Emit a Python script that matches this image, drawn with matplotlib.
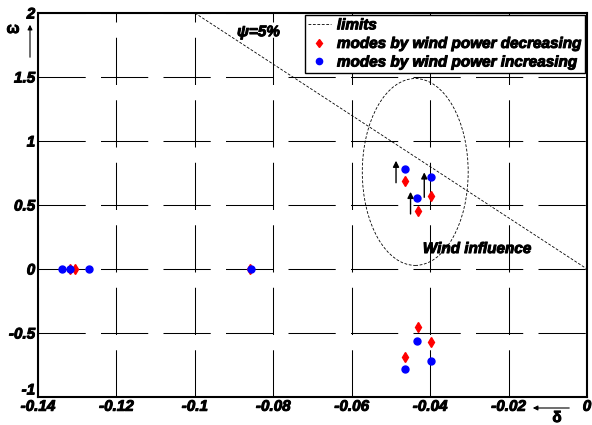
import matplotlib
matplotlib.use("Agg")
import matplotlib.pyplot as plt
import matplotlib.patheffects as pe
import matplotlib.transforms as mtransforms
from matplotlib.patches import Ellipse, FancyArrowPatch

plt.rcParams['font.family'] = ['Liberation Sans', 'DejaVu Sans']
plt.rcParams['font.weight'] = 'bold'
plt.rcParams['font.style'] = 'italic'
plt.rcParams['lines.scale_dashes'] = False

# damping limit line (psi = 5%)
limits_delta = [-0.1, 0.0]
limits_omega = [2.0, 0.0]

# modes by wind power decreasing (red diamonds)
dec_delta = [-0.0465, -0.0431, -0.0399, -0.0465, -0.0431, -0.0399, -0.1318, -0.1305, -0.0860]
dec_omega = [0.69, 0.455, 0.573, -0.69, -0.455, -0.573, 0.0, 0.0, 0.0]

# modes by wind power increasing (blue dots)
inc_delta = [-0.0464, -0.0434, -0.0399, -0.0464, -0.0434, -0.0399, -0.1340, -0.1319, -0.1269, -0.0856]
inc_omega = [0.779, 0.557, 0.721, -0.781, -0.56, -0.721, 0.0, 0.0, 0.0, 0.0]

# upward shift arrows (x, start, end)
arrow_x = [-0.0487, -0.0450, -0.0415]
arrow_y0 = [0.674, 0.43, 0.56]
arrow_y1 = [0.846, 0.603, 0.755]

xticks = [-0.14, -0.12, -0.1, -0.08, -0.06, -0.04, -0.02, 0]
xlabels = ['-0.14', '-0.12', '-0.1', '-0.08', '-0.06', '-0.04', '-0.02', '0']
yticks = [-1, -0.5, 0, 0.5, 1, 1.5, 2]
ylabels = ['-1', '-0.5', '0', '0.5', '1', '1.5', '2']

heavy = [pe.withStroke(linewidth=0.7, foreground='black')]
fs = 11

fig = plt.figure(figsize=(5.92, 4.25), dpi=100)
ax = fig.add_axes([38/592, 1-397/425, 549/592, 384/425])

ax.plot(limits_delta, limits_omega, color='black', lw=0.6, linestyle=(0, (2, 1.2)), label='limits')
ax.plot(dec_delta, dec_omega, 'd', color='red', ms=5, mec='red', label='modes by wind power decreasing')
ax.plot(inc_delta, inc_omega, 'o', color='blue', ms=5, mec='blue', label='modes by wind power increasing')

for x, y0, y1 in zip(arrow_x, arrow_y0, arrow_y1):
    ax.annotate('', xy=(x, y1), xytext=(x, y0),
                arrowprops=dict(arrowstyle='-|>', color='black', lw=1, mutation_scale=9, shrinkA=0, shrinkB=0))

ell = Ellipse((-0.0438, 0.758), 0.027, 1.46, fill=False, edgecolor='black', lw=0.6, linestyle=(0, (2, 1.2)))
ax.add_patch(ell)

ax.text(-0.0838, 1.85, 'ψ=5%', ha='center', va='center', fontsize=fs, path_effects=heavy)
ax.text(-0.028, 0.156, 'Wind influence', ha='center', va='center', fontsize=fs, path_effects=heavy)

ax.set_xlim(-0.14, 0)
ax.set_ylim(-1, 2)
ax.set_xticks(xticks)
ax.set_xticklabels(xlabels)
ax.set_yticks(yticks)
ax.set_yticklabels(ylabels)
ax.tick_params(direction='in', length=0, labelsize=fs, pad=2)
for t in ax.get_xticklabels() + ax.get_yticklabels():
    t.set_path_effects(heavy)
# lift the bottom y label so it clears "-0.14"
lbl = ax.get_yticklabels()[0]
lbl.set_transform(lbl.get_transform() + mtransforms.ScaledTranslation(0, 8/100, fig.dpi_scale_trans))

ax.grid(True, color='black', lw=0.75, linestyle=(0, (34, 11)))
for s in ax.spines.values():
    s.set_linewidth(1.5)

leg = ax.legend(loc='upper right', fontsize=fs, frameon=True, fancybox=False,
                edgecolor='black', framealpha=1, borderpad=0.2, labelspacing=0.3,
                handlelength=1.5, handletextpad=0.4, borderaxespad=0.15, markerscale=0.9)
leg.get_frame().set_linewidth(1.0)
for t in leg.get_texts():
    t.set_path_effects(heavy)

fig.text(13/592, 1-29/425, 'ω', ha='center', va='center', fontsize=fs, style='normal', path_effects=heavy)
fig.text(557/592, 1-418/425, 'δ', ha='center', va='center', fontsize=fs, style='normal', path_effects=heavy)
fig.patches.append(FancyArrowPatch((30/592, 1-60/425), (30/592, 1-22/425),
                   transform=fig.transFigure, arrowstyle='-|>', mutation_scale=7, color='black', lw=0.8))
fig.patches.append(FancyArrowPatch((572/592, 1-408/425), (530/592, 1-408/425),
                   transform=fig.transFigure, arrowstyle='-|>', mutation_scale=7, color='black', lw=0.8))

fig.savefig('out.png', dpi=100)
